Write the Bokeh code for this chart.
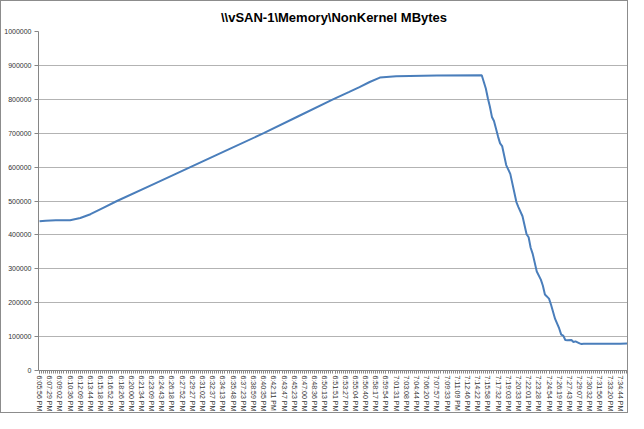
from bokeh.plotting import figure
from bokeh.models import FixedTicker, Range1d, ColumnDataSource
from bokeh.embed import file_html
from bokeh.resources import INLINE

title_text = "\\\\vSAN-1\\Memory\\NonKernel MBytes"

time_labels = [
    "6:05:56 PM", "6:07:29 PM", "6:09:02 PM", "6:10:36 PM", "6:12:09 PM", "6:13:44 PM",
    "6:15:18 PM", "6:16:52 PM", "6:18:26 PM", "6:20:00 PM", "6:21:34 PM", "6:23:09 PM",
    "6:24:43 PM", "6:26:18 PM", "6:27:52 PM", "6:29:27 PM", "6:31:02 PM", "6:32:37 PM",
    "6:34:13 PM", "6:35:48 PM", "6:37:23 PM", "6:38:59 PM", "6:40:35 PM", "6:42:11 PM",
    "6:43:47 PM", "6:45:23 PM", "6:47:00 PM", "6:48:36 PM", "6:50:13 PM", "6:51:51 PM",
    "6:53:27 PM", "6:55:04 PM", "6:56:40 PM", "6:58:17 PM", "6:59:54 PM", "7:01:31 PM",
    "7:03:08 PM", "7:04:44 PM", "7:06:20 PM", "7:07:57 PM", "7:09:33 PM", "7:11:09 PM",
    "7:12:46 PM", "7:14:22 PM", "7:15:58 PM", "7:17:32 PM", "7:19:03 PM", "7:20:33 PM",
    "7:22:01 PM", "7:23:28 PM", "7:24:54 PM", "7:26:19 PM", "7:27:43 PM", "7:29:07 PM",
    "7:30:32 PM", "7:31:56 PM", "7:33:20 PM", "7:34:44 PM",
]
label_every = 5
n_samples = 290

sample_idx = [
    0, 3, 8, 15, 20, 25, 31, 38, 56, 74, 92, 110, 127, 144, 152, 157, 162, 167, 175, 195,
    217, 219, 220, 221, 222, 223, 225, 226, 227, 229, 231, 234, 235, 237, 239, 240, 241,
    242, 244, 246, 247, 248, 250, 251, 253, 255, 256, 257, 258, 259, 261, 262, 263, 265,
    266, 267, 275, 285, 289,
]
nonkernel_mb = [
    440000, 442000, 443000, 443500, 450000, 461000, 479000, 500000, 550000, 600000,
    650000, 700000, 750000, 800000, 822000, 836000, 851000, 864000, 868000, 870000,
    871000, 832000, 803000, 778000, 748000, 736000, 690000, 670000, 662000, 606000,
    580000, 497000, 482000, 455000, 402000, 393000, 362000, 344000, 292000, 268000,
    250000, 224000, 212000, 194000, 152000, 124000, 106000, 103000, 90000, 89000,
    90000, 84000, 86000, 80000, 78000, 79000, 79000, 79000, 80000,
]

y_ticks = [0, 100000, 200000, 300000, 400000, 500000, 600000, 700000, 800000, 900000, 1000000]

p = figure(
    width=628, height=413,
    output_backend="svg", toolbar_location=None,
    x_range=Range1d(-0.5, n_samples - 0.5), y_range=Range1d(0, 1000000),
    min_border_left=33, min_border_right=0, min_border_top=25, min_border_bottom=0,
)
p.styles = {"border": "1px solid #8c8c8c"}
p.title.text = title_text
p.title.align = "center"
p.title.offset = -10
p.title.text_font = "Liberation Sans"
p.title.text_font_size = "13px"
p.title.text_font_style = "bold"
p.title.text_color = "#000000"
p.title.standoff = 13

src = ColumnDataSource(dict(x=sample_idx, y=nonkernel_mb))
p.line("x", "y", source=src, line_color="#4a7ebb", line_width=2)

# axes
label_ticks = [k * label_every for k in range(len(time_labels))]
p.xaxis.ticker = FixedTicker(ticks=label_ticks, minor_ticks=list(range(n_samples)))
p.xaxis.major_label_overrides = {t: lab for t, lab in zip(label_ticks, time_labels)}
p.xaxis.major_label_orientation = "vertical"
p.yaxis.ticker = FixedTicker(ticks=y_ticks)
p.yaxis.major_label_overrides = {v: str(v) for v in y_ticks}

for ax in (p.xaxis, p.yaxis):
    ax.axis_line_color = "#868686"
    ax.major_tick_line_color = "#868686"
    ax.minor_tick_line_color = "#868686"
    ax.major_tick_in = 0
    ax.major_tick_out = 4
    ax.minor_tick_in = 0
    ax.major_label_text_font = "Liberation Sans"
    ax.major_label_text_font_size = "7px"
    ax.major_label_text_color = "#333333"
    ax.major_label_standoff = 3
p.xaxis.major_tick_out = 3
p.xaxis.major_label_standoff = 2
p.xaxis.minor_tick_out = 3
p.yaxis.minor_tick_out = 0

p.xgrid.grid_line_color = None
p.ygrid.ticker = FixedTicker(ticks=y_ticks)
p.ygrid.grid_line_color = "#b3b3b3"
p.ygrid.grid_line_width = 1
p.outline_line_color = None
p.background_fill_color = "white"
p.border_fill_color = "white"

open("out.html", "w").write(file_html(p, INLINE))
